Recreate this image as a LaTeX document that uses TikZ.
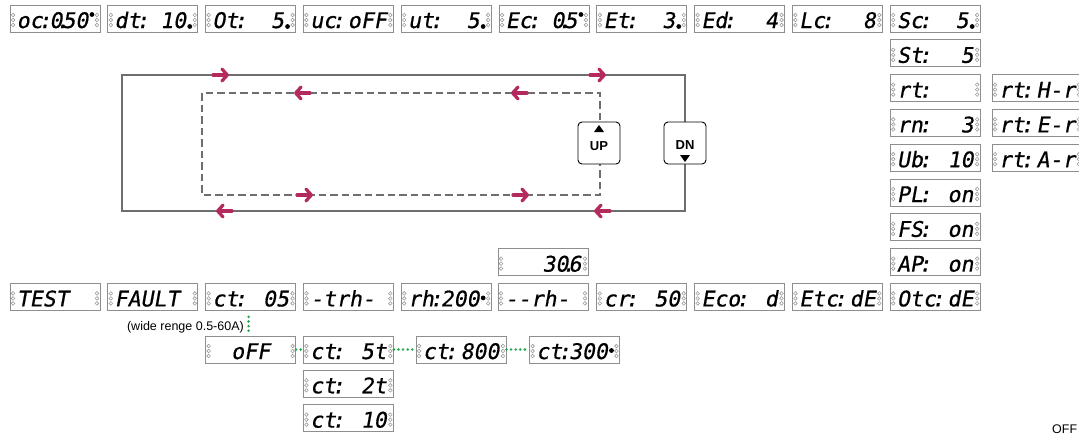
\documentclass[tikz,border=0pt]{standalone}
\usepackage{fontspec}
\setmainfont{Liberation Sans}
\newfontfamily\segfont[FakeSlant=0.18,FakeBold=0.6]{DejaVu Sans Mono}
\usetikzlibrary{arrows.meta}
\definecolor{lcdgray}{HTML}{8E8E8E}
\definecolor{ledgray}{HTML}{9E9E9E}
\definecolor{loopgray}{HTML}{6E6E6E}
\definecolor{flowred}{HTML}{B52A5E}
\definecolor{linkgreen}{HTML}{1DA64B}
\tikzset{
  lcdbox/.style={draw=lcdgray,line width=0.9pt,minimum width=90pt,minimum height=27pt,inner sep=0pt,fill=white},
  segtxt/.style={font={\segfont\fontsize{21.5}{21.5}\selectfont},inner sep=0pt},
  led/.style={draw=ledgray,line width=0.6pt},
  loopline/.style={draw=loopgray,line width=2.6pt},
  loopdash/.style={draw=loopgray,line width=2.2pt,dash pattern=on 7.5pt off 4pt},
  flow/.style={draw=flowred,line width=3.2pt,line cap=round,-{Straight Barb[length=5.5pt,width=12pt,round]}},
  btn/.style={draw=black,line width=0.9pt,rounded corners=4pt,fill=white,minimum width=42pt,minimum height=42pt,inner sep=0pt},
  btntxt/.style={font=\bfseries\fontsize{13}{13}\selectfont,inner sep=0pt},
  link/.style={draw=linkgreen,line width=2.8pt,line cap=round,dash pattern=on 0pt off 4.6pt},
  note/.style={font=\fontsize{12.5}{14}\selectfont,inner sep=0pt}
}
% one display: name, centre, left text, right text, dot shift (empty = no dot)
\newcommand{\lcd}[5]{%
  \node[lcdbox] (#1) at (#2) {};
  \node[segtxt,anchor=base west] at ([xshift=7pt,yshift=-9.5pt]#1.west) {#3};
  \if\relax\detokenize{#5}\relax
    \node[segtxt,anchor=base east] at ([xshift=-7pt,yshift=-9.5pt]#1.east) {#4};
  \else
    \node[segtxt,anchor=base east] at ([xshift=-12pt,yshift=-9.5pt]#1.east) {#4};
    \fill ([xshift=-8.5pt,yshift=#5pt]#1.east) circle (2.4pt);
  \fi
  \foreach \k in {3.5,-1.5,-6.5} {
    \draw[led] ([xshift=3.5pt,yshift=\k pt]#1.west) circle (1.8pt);
    \draw[led] ([xshift=-3.5pt,yshift=\k pt]#1.east) circle (1.8pt);
  }
}
\newcommand{\nc}{\makebox[4pt]{:}}
\newcommand{\nd}{\makebox[0pt]{.}}
\begin{document}
\begin{tikzpicture}[x=1pt,y=-1pt]
\useasboundingbox[fill=white] (0,0) rectangle (1079,439);
% top row
\lcd{oc}{55,18.5}{oc\nc}{0\nd50}{4}
\lcd{dt}{152.8,18.5}{dt\nc}{10}{-8}
\lcd{Ot}{250.6,18.5}{Ot\nc}{5}{-8}
\lcd{uc}{348.4,18.5}{uc\nc}{oFF}{}
\lcd{ut}{446.2,18.5}{ut\nc}{5}{-8}
\lcd{Ec}{544,18.5}{Ec\nc}{0\nd5}{4}
\lcd{Et}{641.8,18.5}{Et\nc}{3}{-8}
\lcd{Ed}{739.6,18.5}{Ed\nc}{4}{}
\lcd{Lc}{837.4,18.5}{Lc\nc}{8}{}
\lcd{Sc}{935.2,18.5}{Sc\nc}{5}{-8}
% right column
\lcd{St}{935.2,53.3}{St\nc}{5}{}
\lcd{rt}{935.2,88.1}{rt\nc}{}{}
\lcd{rn}{935.2,122.9}{rn\nc}{3}{}
\lcd{Ub}{935.2,157.7}{Ub\nc}{10}{}
\lcd{PL}{935.2,192.5}{PL\nc}{on}{}
\lcd{FS}{935.2,227.3}{FS\nc}{on}{}
\lcd{AP}{935.2,262.1}{AP\nc}{on}{}
\lcd{rtH}{1037,88.1}{rt\nc}{H-r}{}
\lcd{rtE}{1037,122.9}{rt\nc}{E-r}{}
\lcd{rtA}{1037,157.7}{rt\nc}{A-r}{}
\lcd{amp}{543,262.1}{}{30\nd6}{}
% bottom row
\lcd{test}{55,296.9}{TEST}{}{}
\lcd{fault}{152.8,296.9}{FAULT}{}{}
\lcd{ct05}{250.6,296.9}{ct\nc}{05}{}
\lcd{trh}{348.4,296.9}{-trh-}{}{}
\lcd{rh200}{446.2,296.9}{rh\nc}{200}{-1}
\lcd{rhm}{543,296.9}{--rh-}{}{}
\lcd{cr}{641.8,296.9}{cr\nc}{50}{}
\lcd{eco}{739.6,296.9}{Eco\nc}{d}{}
\lcd{etc}{837.4,296.9}{Etc\nc}{dE}{}
\lcd{otc}{935.2,296.9}{Otc\nc}{dE}{}
% ct choices
\lcd{off}{250.6,349.5}{}{}{}
\node[segtxt,anchor=base] at ([yshift=-9.5pt]off.center) {oFF};
\lcd{ct5t}{348.4,349.5}{ct\nc}{5t}{}
\lcd{ct800}{461,349.5}{ct\nc}{800}{}
\lcd{ct300}{574.5,349.5}{ct\nc}{300}{-1}
\lcd{ct2t}{348.4,383.8}{ct\nc}{2t}{}
\lcd{ct10}{348.4,418.1}{ct\nc}{10}{}
\node[note,anchor=east] (range) at (244,327.5) {(wide renge 0.5-60A)};
\draw[link] ([xshift=-2pt,yshift=-6pt]ct05.south) -- ([xshift=-2pt,yshift=3pt]off.north);
\draw[link] (off.east) -- (ct5t.west);
\draw[link] (ct5t.east) -- (ct800.west);
\draw[link] (ct800.east) -- (ct300.west);
% key loop
\draw[loopline] (122,75) rectangle (685,211);
\draw[loopdash] (202,93) rectangle (600,195);
\draw[flow] (213,75) -- (229,75); \draw[flow] (590,75) -- (606,75);
\draw[flow] (310,93) -- (294,93); \draw[flow] (527,93) -- (511,93);
\draw[flow] (297,195) -- (313,195); \draw[flow] (513,195) -- (529,195);
\draw[flow] (232,211) -- (216,211); \draw[flow] (610,211) -- (594,211);
\node[btn] (up) at (599,143) {};
\node[btntxt] at ([yshift=-3pt]up.center) {UP};
\fill ([yshift=14pt]up.center) ++(-5,3) -- ++(10,0) -- ++(-5,-7) -- cycle;
\node[btn] (dn) at (685,143) {};
\node[btntxt] at ([yshift=-2pt]dn.center) {DN};
\fill ([yshift=-15pt]dn.center) ++(-5,-3) -- ++(10,0) -- ++(-5,7) -- cycle;
\node[note,anchor=base west] (offnote) at (1052,433) {OFF};
\end{tikzpicture}
\end{document}
